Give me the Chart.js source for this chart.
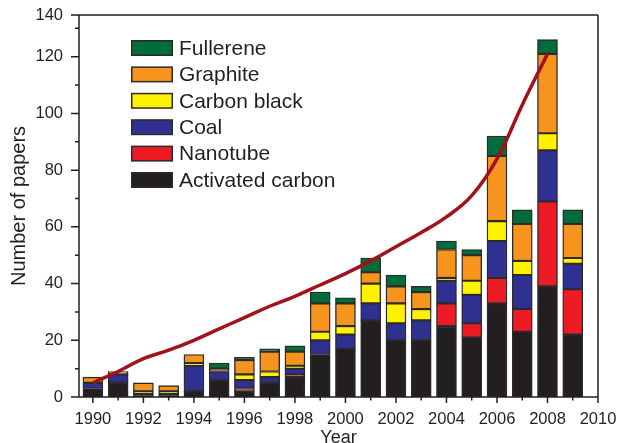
<!DOCTYPE html>
<html>
<head>
<meta charset="utf-8">
<script src="https://cdn.jsdelivr.net/npm/chart.js@4.4.0/dist/chart.umd.min.js"></script>
<style>
  html, body { margin: 0; padding: 0; background: #ffffff; }
  #wrap { width: 617px; height: 443px; }
</style>
</head>
<body>
<div id="wrap"><canvas id="c" width="617" height="443"></canvas></div>
<script>
// Publications per year, split by carbon material
const years = [1990, 1991, 1992, 1993, 1994, 1995, 1996, 1997, 1998, 1999,
               2000, 2001, 2002, 2003, 2004, 2005, 2006, 2007, 2008, 2009];
const activatedCarbon = [3, 5, 1, 1, 2, 6, 2, 5, 7, 15, 17, 27, 20, 20, 25, 21, 33, 23, 39, 22];
const nanotube        = [0, 0, 0, 0, 0, 0, 1, 0, 1, 0, 0, 0, 0, 0, 8, 5, 9, 8, 30, 16];
const coal            = [2, 3, 0, 0, 9, 3, 3, 2, 2, 5, 5, 6, 6, 7, 8, 10, 13, 12, 18, 9];
const carbonBlack     = [0, 0, 1, 1, 1, 0, 2, 2, 1, 3, 3, 7, 7, 4, 1, 5, 7, 5, 6, 2];
const graphite        = [2, 1, 3, 2, 3, 1, 5, 7, 5, 10, 8, 4, 6, 6, 10, 9, 23, 13, 28, 12];
const fullerene       = [0, 0, 0, 0, 0, 2, 1, 1, 2, 4, 2, 5, 4, 2, 3, 2, 7, 5, 5, 5];

// Growth trend curve
const trendYears  = [1990, 1991, 1992, 1993, 1994, 1995, 1996, 1997, 1998, 1999,
                     2000, 2001, 2002, 2003, 2004, 2005, 2006, 2007, 2008];
const trendValues = [5, 9, 13.5, 16.5, 20, 24, 28, 32, 35.5, 39.5,
                     43.5, 48, 53, 58, 63.5, 71, 84, 103, 121];

// Axis labels
const xTickLabels = [1990, 1992, 1994, 1996, 1998, 2000, 2002, 2004, 2006, 2008, 2010];
const yTickLabels = [0, 20, 40, 60, 80, 100, 120, 140];

const X_MIN = 1989.45, X_MAX = 2010, Y_TOP = 134.7;
const INK = '#231f20';
const FONT = "'Liberation Sans', Arial, Helvetica, sans-serif";

const series = [
  { label: 'Activated carbon', data: activatedCarbon, color: '#231f20' },
  { label: 'Nanotube',         data: nanotube,        color: '#ed1c24' },
  { label: 'Coal',             data: coal,            color: '#2e3192' },
  { label: 'Carbon black',     data: carbonBlack,     color: '#fff200' },
  { label: 'Graphite',         data: graphite,        color: '#f7941d' },
  { label: 'Fullerene',        data: fullerene,       color: '#006c3b' }
];

const barSets = series.map(s => ({
  type: 'bar',
  label: s.label,
  data: years.map((yr, i) => ({ x: yr, y: s.data[i] })),
  backgroundColor: s.color,
  borderColor: '#2c2a2b',
  borderWidth: 1.4,
  borderSkipped: false,
  barThickness: 20,
  grouped: false,
  order: 1
}));

const trendSet = {
  type: 'line',
  label: 'Trend',
  data: trendYears.map((yr, i) => ({ x: yr, y: trendValues[i] })),
  borderColor: '#a3111a',
  borderWidth: 3.5,
  pointRadius: 0,
  tension: 0.4,
  fill: false,
  order: 0
};

// Keep the plot box where the layout padding puts it
function noScalePadding(s) {
  s.paddingTop = 0; s.paddingBottom = 0; s.paddingLeft = 0; s.paddingRight = 0;
}

// Axis lines, box frame and major/minor tick marks
const framePlugin = {
  id: 'frame',
  afterDraw(chart) {
    const { ctx, chartArea: a, scales: { x, y } } = chart;
    ctx.save();
    ctx.strokeStyle = INK;
    ctx.lineWidth = 1.5;
    ctx.lineCap = 'butt';
    ctx.beginPath();
    ctx.moveTo(a.left, a.top); ctx.lineTo(a.left, a.bottom);
    ctx.moveTo(a.left, a.bottom); ctx.lineTo(a.right, a.bottom);
    ctx.moveTo(a.right, a.top); ctx.lineTo(a.right, a.bottom);
    ctx.moveTo(a.left - 8, a.top); ctx.lineTo(a.right, a.top);
    // y ticks: labelled ones long, halfway ones short
    for (let k = 0; k < yTickLabels.length - 1; k++) {
      const v = yTickLabels[k];
      const py = y.getPixelForValue(v);
      ctx.moveTo(a.left - 8, py); ctx.lineTo(a.left, py);
      const mid = (v + yTickLabels[k + 1]) / 2;
      if (mid < Y_TOP) {
        const pm = y.getPixelForValue(mid);
        ctx.moveTo(a.left - 4, pm); ctx.lineTo(a.left, pm);
      }
    }
    // x ticks
    for (let k = 0; k < xTickLabels.length; k++) {
      const v = xTickLabels[k];
      const px = x.getPixelForValue(v);
      ctx.moveTo(px, a.bottom); ctx.lineTo(px, a.bottom + 6);
      if (k < xTickLabels.length - 1) {
        const pm = x.getPixelForValue((v + xTickLabels[k + 1]) / 2);
        ctx.moveTo(pm, a.bottom); ctx.lineTo(pm, a.bottom + 3.5);
      }
    }
    ctx.stroke();
    ctx.restore();
  }
};

// Legend box inside the plot, top entry = top of the stack
const legendPlugin = {
  id: 'boxLegend',
  afterDraw(chart) {
    const { ctx, chartArea: a } = chart;
    const items = chart.data.datasets.filter(d => d.type === 'bar').slice().reverse();
    const boxX = a.left + 52, boxW = 42, boxH = 16, rowH = 26.4, firstY = a.top + 33;
    ctx.save();
    ctx.font = `21px ${FONT}`;
    ctx.textBaseline = 'middle';
    ctx.textAlign = 'left';
    items.forEach((d, i) => {
      const cy = firstY + i * rowH;
      ctx.fillStyle = '#2c2a2b';
      ctx.fillRect(boxX, cy - boxH / 2, boxW, boxH);
      ctx.fillStyle = d.backgroundColor;
      ctx.fillRect(boxX + 1.5, cy - boxH / 2 + 1.5, boxW - 3, boxH - 3);
      ctx.fillStyle = INK;
      ctx.fillText(d.label, boxX + boxW + 6, cy + 1);
    });
    ctx.restore();
  }
};

new Chart(document.getElementById('c'), {
  data: { datasets: [...barSets, trendSet] },
  options: {
    responsive: false,
    animation: false,
    layout: { padding: { top: 15, right: 19, left: 0, bottom: 0 } },
    plugins: { legend: { display: false }, tooltip: { enabled: false } },
    scales: {
      x: {
        type: 'linear',
        min: X_MIN,
        max: X_MAX,
        offset: false,
        grid: { display: false, drawTicks: false },
        border: { display: false },
        afterBuildTicks: s => { s.ticks = xTickLabels.map(v => ({ value: v })); },
        afterFit: s => { s.height = 46; noScalePadding(s); },
        ticks: {
          autoSkip: false,
          maxRotation: 0,
          padding: 13,
          color: INK,
          font: { family: FONT, size: 16.5 },
          callback: (v, i) => String(xTickLabels[i])
        },
        title: {
          display: true,
          text: 'Year',
          color: INK,
          padding: 0,
          font: { family: FONT, size: 18, lineHeight: '9px' }
        }
      },
      y: {
        type: 'linear',
        stacked: true,
        min: 0,
        max: Y_TOP,
        grid: { display: false, drawTicks: false },
        border: { display: false },
        afterBuildTicks: s => { s.ticks = yTickLabels.map(v => ({ value: Math.min(v, Y_TOP) })); },
        afterFit: s => { s.width = 79; noScalePadding(s); },
        ticks: {
          padding: 16,
          color: INK,
          font: { family: FONT, size: 16.5 },
          callback: (v, i) => String(yTickLabels[i])
        },
        title: {
          display: true,
          text: 'Number of papers',
          color: INK,
          padding: 0,
          font: { family: FONT, size: 20, lineHeight: '39px' }
        }
      }
    }
  },
  plugins: [framePlugin, legendPlugin]
});
</script>
</body>
</html>
